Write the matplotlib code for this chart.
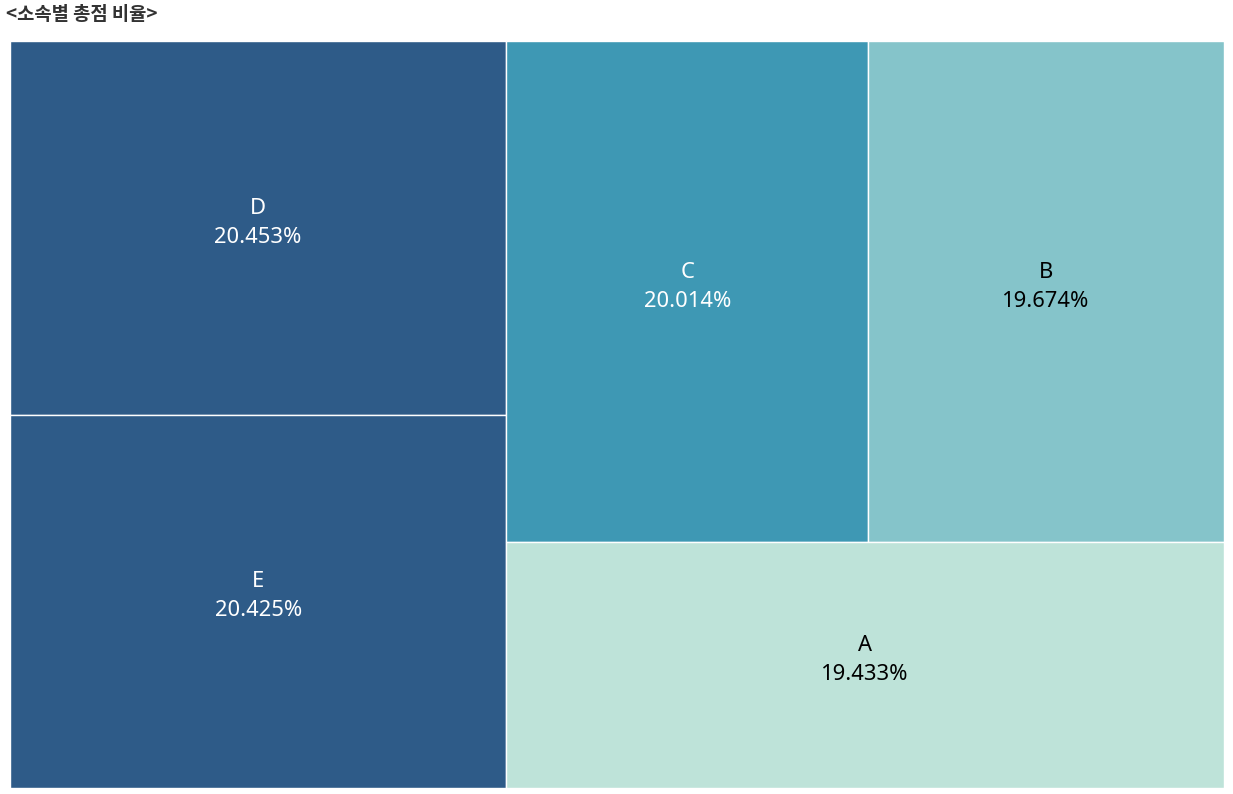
"""Treemap of total score share by group (소속별 총점 비율)."""

import matplotlib.pyplot as plt
from matplotlib.patches import Rectangle

plt.rcParams["font.family"] = ["Noto Sans CJK KR", "DejaVu Sans"]

groups = ["D", "E", "C", "B", "A"]
shares = [20.453, 20.425, 20.014, 19.674, 19.433]
colors = {"D": "#2E5B88", "E": "#2E5B88", "C": "#3E98B4", "B": "#85C4CA", "A": "#BEE3D9"}
text_colors = {"D": "white", "E": "white", "C": "white", "B": "black", "A": "black"}

W, H = 1214, 747


def worst(row, side):
    s = sum(row)
    return max(max(side * side * r / (s * s), s * s / (side * side * r)) for r in row)


def squarify(values, x, y, w, h):
    """Return list of (x, y, w, h) rects; values are areas summing to w*h."""
    rects = []
    values = list(values)
    while values:
        side = min(w, h)
        row = [values[0]]
        i = 1
        while i < len(values) and worst(row + [values[i]], side) <= worst(row, side):
            row.append(values[i])
            i += 1
        values = values[i:]
        s = sum(row)
        if w >= h:
            # column along the left side
            rw = s / h
            cy = y + h
            for r in row:
                rh = r / rw
                rects.append((x, cy - rh, rw, rh))
                cy -= rh
            x += rw
            w -= rw
        else:
            # row along the top
            rh = s / w
            cx = x
            for r in row:
                rw = r / rh
                rects.append((cx, y + h - rh, rw, rh))
                cx += rw
            h -= rh
    return rects


total = sum(shares)
areas = [v / total * W * H for v in shares]
rects = squarify(areas, 0, 0, W, H)

fig = plt.figure(figsize=(12.33, 7.94), dpi=100)
ax = fig.add_axes([10 / 1233, 6 / 794, W / 1233, H / 794])
ax.set_xlim(0, W)
ax.set_ylim(0, H)
ax.axis("off")

for g, v, (rx, ry, rw, rh) in zip(groups, shares, rects):
    ax.add_patch(Rectangle((rx, ry), rw, rh, facecolor=colors[g], edgecolor="white", linewidth=1))
    cx = rx + rw / 2
    cy = ry + rh / 2 + 5
    ax.text(cx, cy + 14.5, g, ha="center", va="center", fontsize=15.8,
            family="Noto Sans", color=text_colors[g])
    ax.text(cx, cy - 14.5, f"{v:.3f}%", ha="center", va="center", fontsize=15.8,
            family="Noto Sans", color=text_colors[g])

fig.text(6 / 1233, 1 - 14 / 794, "<소속별 총점 비율>", ha="left", va="center",
         fontsize=13.5, fontweight="bold", color="#333333")

fig.savefig("out.png", dpi=100)
